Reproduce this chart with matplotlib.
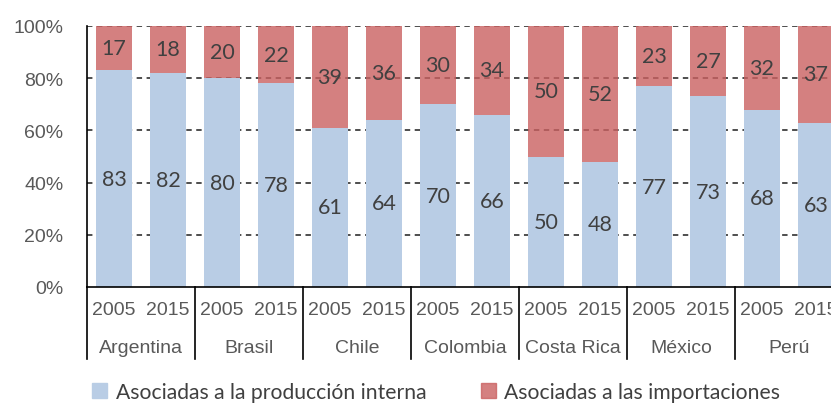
import numpy as np
import matplotlib
matplotlib.use("Agg")
import matplotlib.pyplot as plt
import matplotlib.transforms as mtransforms
from matplotlib.patches import Patch

# data
countries = ["Argentina", "Brasil", "Chile", "Colombia", "Costa Rica", "México", "Perú"]
years = ["2005", "2015"]
interna = [83, 82, 80, 78, 61, 64, 70, 66, 50, 48, 77, 73, 68, 63]
importaciones = [17, 18, 20, 22, 39, 36, 30, 34, 50, 52, 23, 27, 32, 37]
series_names = ["Asociadas a la producción interna", "Asociadas a las importaciones"]

blue = "#B9CDE5"
red = "#CA6060"
txt_grey = "#595959"
lbl_grey = "#404040"

fig = plt.figure(figsize=(8.31, 4.06), dpi=100)
ax = fig.add_axes([87/831, 1-288/406, 756/831, 261/406])

x = np.arange(len(interna))
b1 = ax.bar(x, interna, width=0.65, color=blue, zorder=2)
# red series is a bit see-through, gridlines show through it
b2 = ax.bar(x, importaciones, width=0.65, bottom=interna, color=red, alpha=0.8, zorder=2)

ax.bar_label(b1, label_type="center", fontsize=15.5, color=lbl_grey, family="Lato", zorder=5)
ax.bar_label(b2, label_type="center", fontsize=15.5, color=lbl_grey, family="Lato", zorder=5)

for v in [20, 40, 60, 80, 100]:
    ax.axhline(v, color="#404040", lw=1.3, ls=(0, (3, 2.5)), zorder=1)

ax.set_xlim(-0.5, len(interna) - 0.5)
ax.set_ylim(0, 100)
ax.set_yticks([0, 20, 40, 60, 80, 100])
ax.set_yticklabels(["0%", "20%", "40%", "60%", "80%", "100%"])
ax.tick_params(axis="y", length=0, pad=17, labelsize=14, labelcolor=txt_grey)
ax.set_xticks([])
for lab in ax.get_yticklabels():
    lab.set_family("Liberation Sans")

for s in ["top", "right"]:
    ax.spines[s].set_visible(False)
ax.spines["left"].set_color("black")
ax.spines["bottom"].set_color("black")
ax.spines["left"].set_linewidth(1.2)
ax.spines["bottom"].set_linewidth(1.2)
ax.spines["bottom"].set_zorder(4)

# two-level category axis
trans = mtransforms.blended_transform_factory(ax.transData, ax.transAxes)
for i in range(len(interna)):
    ax.text(i, -0.088, years[i % 2], transform=trans, ha="center", va="center",
            fontsize=14, color=txt_grey, family="Liberation Sans")
for j, c in enumerate(countries):
    ax.text(2*j + 0.5, -0.23, c, transform=trans, ha="center", va="center",
            fontsize=14, color=txt_grey, family="Liberation Sans")
for k in range(len(countries) + 1):
    ax.plot([2*k - 0.5, 2*k - 0.5], [0, -0.276], transform=trans, color="black",
            lw=1.2, clip_on=False)

handles = [Patch(color=blue), Patch(color=red, alpha=0.8)]
fig.legend(handles, series_names, loc="center", bbox_to_anchor=(0.525, 0.032), ncol=2,
           frameon=False, prop={"family": "Lato", "size": 15.2}, labelcolor=lbl_grey,
           handlelength=0.7, handleheight=0.7, handletextpad=0.4, columnspacing=2.6)

fig.savefig("out.png", dpi=100)
